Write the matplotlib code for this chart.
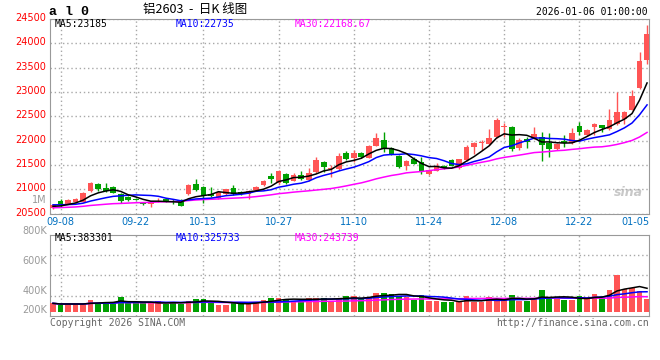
import numpy as np
import pandas as pd
import matplotlib
matplotlib.use("Agg")
import matplotlib.pyplot as plt
from matplotlib.transforms import ScaledTranslation

# al0 daily bars, 2025-09-05 .. 2026-01-06
dates = ["09-05", "09-08", "09-09", "09-10", "09-11", "09-12", "09-15", "09-16", "09-17", "09-18",
         "09-19", "09-22", "09-23", "09-24", "09-25", "09-26", "09-29", "09-30", "10-09", "10-10",
         "10-13", "10-14", "10-15", "10-16", "10-17", "10-20", "10-21", "10-22", "10-23", "10-24",
         "10-27", "10-28", "10-29", "10-30", "10-31", "11-03", "11-04", "11-05", "11-06", "11-07",
         "11-10", "11-11", "11-12", "11-13", "11-14", "11-17", "11-18", "11-19", "11-20", "11-21",
         "11-24", "11-25", "11-26", "11-27", "11-28", "12-01", "12-02", "12-03", "12-04", "12-05",
         "12-08", "12-09", "12-10", "12-11", "12-12", "12-15", "12-16", "12-17", "12-18", "12-19",
         "12-22", "12-23", "12-24", "12-25", "12-26", "12-29", "12-30", "12-31", "01-05", "01-06"]

opens = [20610, 20766, 20700, 20730, 20745, 20972, 21116, 21034, 21048, 20910,
         20850, 20800, 20715, 20698, 20732, 20800, 20760, 20780, 20897, 21116,
         21040, 20903, 20828, 20903, 21027, 20951, 20903, 20985, 21088, 21280,
         21123, 21315, 21170, 21294, 21191, 21349, 21569, 21411, 21424, 21740,
         21651, 21754, 21651, 21891, 22015, 21843, 21686, 21487, 21624, 21569,
         21315, 21383, 21487, 21603, 21432, 21603, 21878, 21946, 21926, 22070,
         22275, 22289, 21843, 22028, 22049, 22083, 21946, 21830, 22001, 21946,
         22303, 22118, 22275, 22323, 22234, 22344, 22440, 22632, 23078, 23647]
highs = [20700, 20800, 20810, 20830, 20940, 21140, 21135, 21137, 21060, 20930,
         20860, 20820, 20740, 20760, 20830, 20820, 20790, 20800, 21110, 21205,
         21060, 21054, 20960, 21010, 21088, 20970, 20990, 21070, 21190, 21328,
         21390, 21330, 21335, 21383, 21445, 21671, 21580, 21500, 21740, 21790,
         21809, 21770, 21900, 22166, 22180, 21860, 21700, 21600, 21672, 21658,
         21410, 21548, 21500, 21620, 21630, 21920, 21967, 22015, 22241, 22460,
         22370, 22310, 22050, 22083, 22275, 22186, 22152, 21960, 22118, 22255,
         22392, 22230, 22371, 22330, 22645, 23009, 22610, 23043, 23812, 24381]
lows = [20590, 20640, 20690, 20720, 20730, 20950, 20970, 20940, 20920, 20720,
        20760, 20770, 20680, 20630, 20730, 20740, 20700, 20650, 20880, 20960,
        20725, 20850, 20810, 20890, 20890, 20890, 20810, 20975, 21070, 21136,
        21110, 21110, 21160, 21200, 21180, 21330, 21363, 21260, 21400, 21610,
        21569, 21650, 21640, 21880, 21761, 21700, 21432, 21405, 21510, 21315,
        21300, 21370, 21420, 21470, 21420, 21590, 21727, 21809, 21910, 22050,
        22083, 21788, 21817, 21857, 22030, 21590, 21658, 21810, 21877, 21930,
        22118, 22090, 22118, 22180, 22220, 22320, 22344, 22620, 23060, 23578]
closes = [20680, 20700, 20770, 20800, 20930, 21130, 21000, 20958, 20930, 20766,
          20780, 20780, 20705, 20746, 20766, 20746, 20750, 20663, 21096, 20979,
          20862, 20862, 20951, 21006, 20903, 20903, 20972, 21054, 21178, 21212,
          21383, 21136, 21294, 21212, 21328, 21603, 21452, 21445, 21692, 21624,
          21754, 21672, 21891, 22063, 21830, 21727, 21466, 21583, 21521, 21363,
          21397, 21487, 21432, 21487, 21617, 21878, 21946, 21974, 22047, 22430,
          22300, 21823, 22015, 21980, 22130, 21912, 21830, 21932, 21946, 22150,
          22175, 22220, 22344, 22255, 22426, 22591, 22591, 22920, 23630, 24195]
# volume, lots
volumes = [135000, 113000, 124000, 124000, 124000, 190000, 140000, 157000, 140000, 239000,
           135000, 135000, 135000, 135000, 173000, 124000, 157000, 129000, 173000, 206000,
           206000, 146000, 107000, 107000, 157000, 135000, 135000, 157000, 190000, 223000,
           223000, 206000, 179000, 179000, 223000, 223000, 223000, 179000, 206000, 256000,
           261000, 201000, 234000, 311000, 311000, 289000, 261000, 234000, 190000, 272000,
           170000, 170000, 159000, 159000, 153000, 252000, 159000, 159000, 241000, 203000,
           203000, 266000, 170000, 181000, 225000, 346840, 236000, 208000, 197000, 197000,
           250000, 217000, 290825, 228000, 355000, 602000, 371000, 393000, 338000, 212505]
# closes before the visible window (only feed the moving averages)
pre_closes = [20560, 20610, 20580, 20545, 20600, 20630, 20575, 20590, 20620, 20555,
              20570, 20605, 20590, 20565, 20600, 20615, 20580, 20595, 20610, 20595,
              20690, 20720, 20745, 20700, 20695, 20660, 20625, 20640, 20645]

tick_labels = ["09-08", "09-22", "10-13", "10-27", "11-10", "11-24", "12-08", "12-22", "01-05"]

RED = "#ff5555"
GREEN = "#00a000"
GRID = "#a8a8a8"
FRAME = "#999999"
MONO = "DejaVu Sans Mono"

n = len(dates)
x = np.arange(n)
o = np.array(opens)
c = np.array(closes)
h = np.array(highs)
l = np.array(lows)
vol = np.array(volumes)
up = c >= o
cols = np.where(up, RED, GREEN)

allc = pd.Series(pre_closes + closes)
ma = {p: allc.rolling(p).mean().values[len(pre_closes):] for p in (5, 10, 30)}
vs = pd.Series(vol)
vma = {p: vs.rolling(p, min_periods=1).mean().values for p in (5, 10, 30)}

W, H = 660, 360
def rect(x0, y0, x1, y1):
    return [x0 / W, 1 - y1 / H, (x1 - x0) / W, (y1 - y0) / H]

fig = plt.figure(figsize=(W / 100, H / 100), dpi=100)
ax = fig.add_axes(rect(50, 19, 649, 213.6))
axv = fig.add_axes(rect(50, 234.7, 649, 316), sharex=ax)

tick_idx = [dates.index(t) for t in tick_labels]

# ---- price panel
ax.vlines(x, l, h, colors=cols, lw=1, zorder=3)
body = np.maximum(np.abs(c - o), 12)
ax.bar(x, body, bottom=np.minimum(o, c), width=0.76, color=cols, lw=0, zorder=4)
ax.plot(x, ma[30], color="#ff00ff", lw=1.1, zorder=5)
ax.plot(x, ma[10], color="#0000ff", lw=1.1, zorder=5)
ax.plot(x, ma[5], color="black", lw=1.1, zorder=5)

ax.set_xlim(-0.4, n - 0.74)
ax.set_ylim(20500, 24500)
ax.set_yticks(np.arange(20500, 24501, 500))
ax.yaxis.grid(True, ls=(0, (1, 2)), color=GRID, lw=1)
for k in tick_idx[:-1]:
    ax.axvline(k, ls=(0, (1, 2)), color=GRID, lw=1, zorder=1)
    axv.axvline(k, ls=(0, (1, 2)), color=GRID, lw=1, zorder=1)
ax.tick_params(axis="y", length=0, pad=3, labelsize=7, labelcolor="#ff0000")
ax.set_xticks(tick_idx)
ax.set_xticklabels(tick_labels)
ax.tick_params(axis="x", length=0, pad=2.5, labelsize=7, labelcolor="#0070c0")
up2 = ScaledTranslation(0, 0.02, fig.dpi_scale_trans)
for t in ax.get_yticklabels():
    t.set_transform(t.get_transform() + up2)
xl = ax.get_xticklabels()
xl[-1].set_transform(xl[-1].get_transform() + ScaledTranslation(-0.04, 0, fig.dpi_scale_trans))
for sp in ax.spines.values():
    sp.set_color(FRAME)

ax.text(-0.005, 0.07, "1M", transform=ax.transAxes, ha="right", va="center",
        fontsize=7, color="#999999")
ax.text(0.008, 0.975, "MA5:%d" % round(ma[5][-1]), transform=ax.transAxes,
        family=MONO, fontsize=7, color="black", va="center")
ax.text(0.209, 0.975, "MA10:%d" % round(ma[10][-1]), transform=ax.transAxes,
        family=MONO, fontsize=7, color="#0000ff", va="center")
ax.text(0.409, 0.975, "MA30:%.2f" % ma[30][-1], transform=ax.transAxes,
        family=MONO, fontsize=7, color="#ff00ff", va="center")
ax.text(0.965, 0.11, "sina", transform=ax.transAxes, ha="center", va="center",
        fontsize=9, style="italic", weight="bold", color="#c8c8c8", zorder=0)

# ---- volume panel
axv.bar(x, vol, width=0.76, color=cols, lw=0, zorder=3)
axv.plot(x, vma[30], color="#ff00ff", lw=1.1, zorder=4)
axv.plot(x, vma[10], color="#0000ff", lw=1.1, zorder=4)
axv.plot(x, vma[5], color="black", lw=1.1, zorder=4)
axv.set_ylim(-74000, 1267000)
for fy in (0.75, 0.5, 0.25):
    axv.axhline(axv.get_ylim()[0] + fy * (axv.get_ylim()[1] - axv.get_ylim()[0]),
                ls=(0, (1, 2)), color=GRID, lw=1, zorder=1)
axv.set_yticks([])
axv.tick_params(axis="x", length=0, labelbottom=False)
for sp in axv.spines.values():
    sp.set_color(FRAME)
for lab, fy in (("800K", 1.045), ("600K", 0.677), ("400K", 0.307), ("200K", 0.074)):
    axv.text(-0.005, fy, lab, transform=axv.transAxes, ha="right", va="center",
             fontsize=7, color="#999999")
axv.text(0.008, 0.965, "MA5:%d" % round(vma[5][-1]), transform=axv.transAxes,
         family=MONO, fontsize=7, color="black", va="center")
axv.text(0.209, 0.965, "MA10:%d" % round(vma[10][-1]), transform=axv.transAxes,
         family=MONO, fontsize=7, color="#0000ff", va="center")
axv.text(0.409, 0.965, "MA30:%d" % round(vma[30][-1]), transform=axv.transAxes,
         family=MONO, fontsize=7, color="#ff00ff", va="center")

# ---- header / footer
fig.text(49 / W, 1 - 12 / H, "a l 0", family="Liberation Mono", weight="bold", fontsize=9.5,
         va="center")
fig.text(195 / W, 1 - 10 / H, "铝2603  -  日K 线图", family=["Noto Sans CJK SC", "DejaVu Sans"],
         fontsize=9, ha="center", va="center")
fig.text(648 / W, 1 - 12 / H, "2026-01-06 01:00:00", family=MONO, fontsize=7,
         ha="right", va="center")
fig.text(50 / W, 1 - 323 / H, "Copyright 2026 SINA.COM", family=MONO, fontsize=7,
         color="#666666", va="center")
fig.text(649 / W, 1 - 323 / H, "http://finance.sina.com.cn", family=MONO, fontsize=7,
         color="#666666", ha="right", va="center")

fig.savefig("out.png", dpi=100)
